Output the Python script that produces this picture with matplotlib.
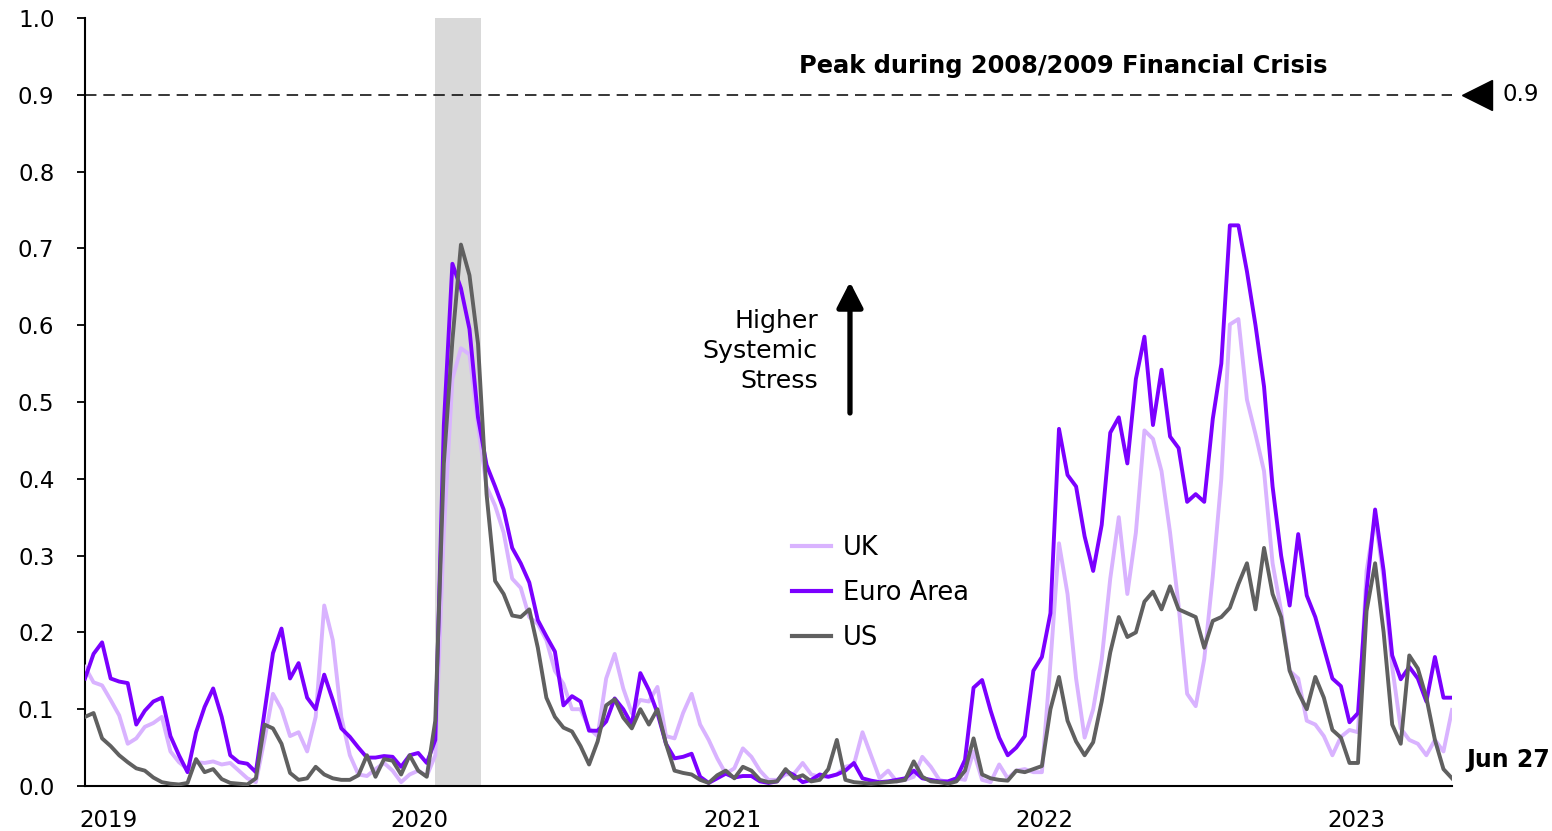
import numpy as np
import matplotlib
matplotlib.use("Agg")
import matplotlib.pyplot as plt
import matplotlib.transforms as mtransforms

# ---------------- data ----------------
START_DATE = "2019-01-01"
STEP_DAYS = 10

uk = [0.155, 0.135, 0.131, 0.112, 0.092, 0.055, 0.062, 0.077, 0.082, 0.090,
      0.045, 0.031, 0.022, 0.031, 0.030, 0.032, 0.028, 0.030, 0.020, 0.010,
      0.005, 0.060, 0.120, 0.100, 0.065, 0.070, 0.045, 0.090, 0.235, 0.190,
      0.090, 0.040, 0.015, 0.013, 0.022, 0.030, 0.020, 0.005, 0.015, 0.020,
      0.013, 0.040, 0.330, 0.530, 0.570, 0.562, 0.470, 0.390, 0.365, 0.330,
      0.270, 0.258, 0.220, 0.211, 0.190, 0.150, 0.133, 0.100, 0.100, 0.075,
      0.065, 0.140, 0.172, 0.127, 0.095, 0.112, 0.110, 0.129, 0.065, 0.062,
      0.095, 0.120, 0.080, 0.060, 0.036, 0.016, 0.023, 0.049, 0.038, 0.020,
      0.008, 0.008, 0.015, 0.016, 0.030, 0.015, 0.012, 0.012, 0.015, 0.025,
      0.028, 0.070, 0.040, 0.010, 0.020, 0.006, 0.008, 0.012, 0.038, 0.025,
      0.008, 0.005, 0.010, 0.008, 0.045, 0.008, 0.005, 0.028, 0.010, 0.020,
      0.022, 0.018, 0.018, 0.160, 0.316, 0.250, 0.140, 0.063, 0.100, 0.165,
      0.270, 0.350, 0.250, 0.330, 0.463, 0.452, 0.410, 0.330, 0.235, 0.120,
      0.104, 0.165, 0.273, 0.400, 0.601, 0.608, 0.503, 0.458, 0.410, 0.290,
      0.228, 0.150, 0.140, 0.085, 0.080, 0.065, 0.040, 0.064, 0.073, 0.070,
      0.280, 0.350, 0.270, 0.155, 0.075, 0.060, 0.055, 0.040, 0.060, 0.045,
      0.099]

euro_area = [0.140, 0.172, 0.187, 0.140, 0.136, 0.134, 0.080, 0.098, 0.110, 0.115,
             0.065, 0.040, 0.018, 0.070, 0.103, 0.127, 0.090, 0.040, 0.031, 0.029,
             0.018, 0.095, 0.173, 0.205, 0.140, 0.160, 0.115, 0.100, 0.145, 0.112,
             0.075, 0.064, 0.050, 0.037, 0.037, 0.039, 0.038, 0.025, 0.040, 0.043,
             0.030, 0.060, 0.470, 0.680, 0.648, 0.595, 0.480, 0.418, 0.390, 0.360,
             0.310, 0.290, 0.265, 0.216, 0.195, 0.175, 0.105, 0.117, 0.110, 0.072,
             0.072, 0.084, 0.114, 0.100, 0.080, 0.147, 0.125, 0.095, 0.055, 0.036,
             0.038, 0.042, 0.012, 0.004, 0.010, 0.016, 0.011, 0.013, 0.013, 0.006,
             0.004, 0.006, 0.020, 0.014, 0.005, 0.008, 0.015, 0.012, 0.015, 0.020,
             0.030, 0.010, 0.007, 0.005, 0.006, 0.008, 0.010, 0.020, 0.010, 0.008,
             0.006, 0.006, 0.010, 0.034, 0.128, 0.138, 0.098, 0.063, 0.040, 0.050,
             0.065, 0.150, 0.168, 0.225, 0.465, 0.405, 0.390, 0.325, 0.280, 0.340,
             0.460, 0.480, 0.420, 0.530, 0.585, 0.470, 0.542, 0.455, 0.440, 0.370,
             0.380, 0.370, 0.478, 0.550, 0.730, 0.730, 0.670, 0.600, 0.520, 0.390,
             0.300, 0.235, 0.328, 0.248, 0.220, 0.180, 0.140, 0.130, 0.083, 0.095,
             0.255, 0.360, 0.280, 0.170, 0.139, 0.155, 0.140, 0.110, 0.168, 0.115,
             0.115]

us = [0.090, 0.095, 0.062, 0.052, 0.040, 0.031, 0.023, 0.020, 0.011, 0.005,
      0.003, 0.002, 0.004, 0.035, 0.018, 0.022, 0.009, 0.004, 0.003, 0.002,
      0.010, 0.080, 0.075, 0.055, 0.017, 0.008, 0.010, 0.025, 0.015, 0.010,
      0.008, 0.008, 0.014, 0.040, 0.012, 0.035, 0.033, 0.015, 0.040, 0.020,
      0.012, 0.085, 0.420, 0.580, 0.705, 0.665, 0.576, 0.380, 0.267, 0.250,
      0.222, 0.220, 0.230, 0.180, 0.115, 0.090, 0.076, 0.071, 0.052, 0.028,
      0.058, 0.105, 0.113, 0.089, 0.075, 0.100, 0.080, 0.100, 0.055, 0.020,
      0.017, 0.015, 0.008, 0.004, 0.014, 0.020, 0.010, 0.025, 0.020, 0.008,
      0.005, 0.006, 0.022, 0.010, 0.014, 0.006, 0.008, 0.022, 0.060, 0.008,
      0.005, 0.004, 0.003, 0.004, 0.005, 0.006, 0.008, 0.032, 0.012, 0.006,
      0.005, 0.003, 0.006, 0.020, 0.062, 0.015, 0.010, 0.008, 0.007, 0.020,
      0.018, 0.022, 0.026, 0.100, 0.142, 0.085, 0.058, 0.040, 0.057, 0.110,
      0.174, 0.220, 0.194, 0.200, 0.240, 0.253, 0.230, 0.260, 0.230, 0.225,
      0.220, 0.180, 0.215, 0.220, 0.232, 0.263, 0.290, 0.230, 0.310, 0.250,
      0.220, 0.150, 0.122, 0.100, 0.142, 0.115, 0.073, 0.063, 0.030, 0.030,
      0.228, 0.290, 0.200, 0.080, 0.055, 0.170, 0.153, 0.115, 0.060, 0.022,
      0.010]

series_names = ["UK", "Euro Area", "US"]
series_colors = ["#d9b3ff", "#7b00ff", "#606060"]

year_ticks = ["2019-01-01", "2020-01-01", "2021-01-01", "2022-01-01", "2023-01-01"]
year_labels = ["2019", "2020", "2021", "2022", "2023"]
y_ticks = [0.0, 0.1, 0.2, 0.3, 0.4, 0.5, 0.6, 0.7, 0.8, 0.9, 1.0]

crisis_peak = 0.9
shade_start, shade_end = "2020-02-15", "2020-04-08"
end_label = "Jun 27"

# ---------------- figure ----------------
plt.rcParams["font.family"] = ["DejaVu Sans"]
W, H = 1552, 831
fig = plt.figure(figsize=(W / 100, H / 100), dpi=100)
ax = fig.add_axes([85 / W, 45 / H, 1367 / W, 768 / H])

dates = np.datetime64(START_DATE) + np.arange(len(uk)) * np.timedelta64(STEP_DAYS, "D")

ax.axvspan(np.datetime64(shade_start), np.datetime64(shade_end), color="#d9d9d9", zorder=0, lw=0)

for vals, name, col in zip([uk, euro_area, us], series_names, series_colors):
    ax.plot(dates, vals, color=col, lw=2.8, label=name, solid_joinstyle="round", zorder=3)

ax.axhline(crisis_peak, color="black", lw=1.1, ls=(0, (7.5, 4.5)), zorder=2)

ax.set_xlim(dates[0], dates[-1])
ax.set_ylim(0, 1.0)

ax.set_yticks(y_ticks)
ax.set_yticklabels([f"{v:.1f}" for v in y_ticks])
ax.set_xticks([np.datetime64(d) for d in year_ticks])
ax.set_xticklabels([""] * len(year_ticks))
xlab_trans = ax.get_xaxis_transform() + mtransforms.ScaledTranslation(-6 / 100, -23 / 100, fig.dpi_scale_trans)
for d, lab in zip(year_ticks, year_labels):
    ax.text(np.datetime64(d), 0, lab, transform=xlab_trans, ha="left", va="top",
            fontsize=16.5, clip_on=False)

ax.tick_params(axis="y", length=6, width=1.3, pad=16, labelsize=16.5, direction="out")
ax.tick_params(axis="x", length=0)
for s in ["top", "right"]:
    ax.spines[s].set_visible(False)
ax.spines["left"].set_linewidth(1.5)
ax.spines["bottom"].set_linewidth(1.5)

# crisis annotation
ax.text(0.7154, 0.9375, "Peak during 2008/2009 Financial Crisis", transform=ax.transAxes,
        ha="center", va="center", fontsize=17.4, fontweight="bold")
trans_blend = mtransforms.blended_transform_factory(ax.transAxes, ax.transData)
ax.plot([1.0183], [crisis_peak], marker="<", markersize=21, color="black",
        transform=trans_blend, clip_on=False)
ax.text(1.0366, crisis_peak, f"{crisis_peak:.1f}", transform=trans_blend,
        ha="left", va="center", fontsize=16.5)

# arrow + text
ax.annotate("", xy=(0.5596, 0.6563), xytext=(0.5596, 0.4857), xycoords="axes fraction",
            arrowprops=dict(arrowstyle="-|>,head_length=0.7,head_width=0.36", lw=3.8,
                            color="black", mutation_scale=22, shrinkA=0, shrinkB=0))
ax.text(0.5362, 0.5664, "Higher\nSystemic\nStress", transform=ax.transAxes,
        ha="right", va="center", fontsize=18.2, linespacing=1.32)

# legend
leg = ax.legend(loc="center left", bbox_to_anchor=(0.5172, 0.2513), frameon=False,
                fontsize=18.5, handlelength=1.5, handletextpad=0.47, labelspacing=0.75,
                borderpad=0, borderaxespad=0)
for line in leg.get_lines():
    line.set_linewidth(3)

fig.text(1550 / W, (831 - 760) / H, end_label, ha="right", va="center",
         fontsize=17, fontweight="bold")

fig.savefig("out.png", dpi=100)
